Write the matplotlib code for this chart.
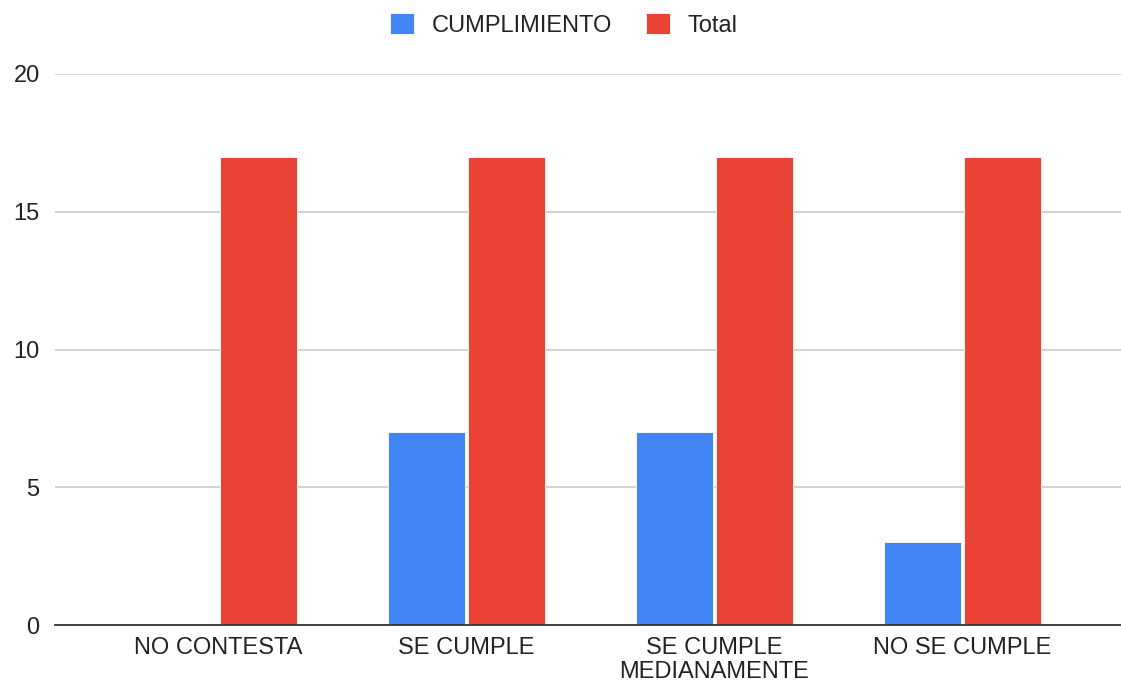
import matplotlib
matplotlib.use("Agg")
import matplotlib.pyplot as plt
import numpy as np

categories = ["NO CONTESTA", "SE CUMPLE", "SE CUMPLE\nMEDIANAMENTE", "NO SE CUMPLE"]
cumplimiento = [0, 7, 7, 3]
total = [17, 17, 17, 17]
series_names = ["CUMPLIMIENTO", "Total"]
yticks = [0, 5, 10, 15, 20]

blue = "#4285F4"
red = "#EA4335"

plt.rcParams['font.family'] = ['Liberation Sans', 'DejaVu Sans']

fig = plt.figure(figsize=(11.21, 6.82), dpi=100)
ax = fig.add_axes([55/1121, 1 - 625/682, 1066/1121, (625-74)/682])

x = np.arange(len(categories))
w = 0.31
off = 0.161
ax.bar(x - off, cumplimiento, w, color=blue, edgecolor="white", linewidth=0.6, label=series_names[0], zorder=3)
ax.bar(x + off, total, w, color=red, edgecolor="white", linewidth=0.6, label=series_names[1], zorder=3)

ax.set_xlim(-0.66, 3.64)
ax.set_ylim(0, 20)
ax.set_yticks(yticks)
ax.set_yticklabels([str(t) for t in yticks], fontsize=17, color="#222222")
ax.set_xticks(x)
ax.set_xticklabels(categories, fontsize=17, color="#222222", linespacing=1.1)
ax.tick_params(axis='both', length=0)
ax.tick_params(axis='y', pad=11)
ax.tick_params(axis='x', pad=9)
ax.grid(axis='y', color="#cccccc", linewidth=1.2, zorder=0)
for s in ["top", "right", "left"]:
    ax.spines[s].set_visible(False)
ax.spines["bottom"].set_color("#333333")
ax.spines["bottom"].set_linewidth(1.3)
ax.spines["bottom"].set_zorder(4)

leg = fig.legend(loc="upper center", bbox_to_anchor=(0.503, 1.012), ncol=2, frameon=False,
                 fontsize=17, handlelength=1.0, handleheight=1.0, handletextpad=0.76,
                 columnspacing=1.44)
for t in leg.get_texts():
    t.set_color("#222222")

fig.savefig("out.png", dpi=100)
